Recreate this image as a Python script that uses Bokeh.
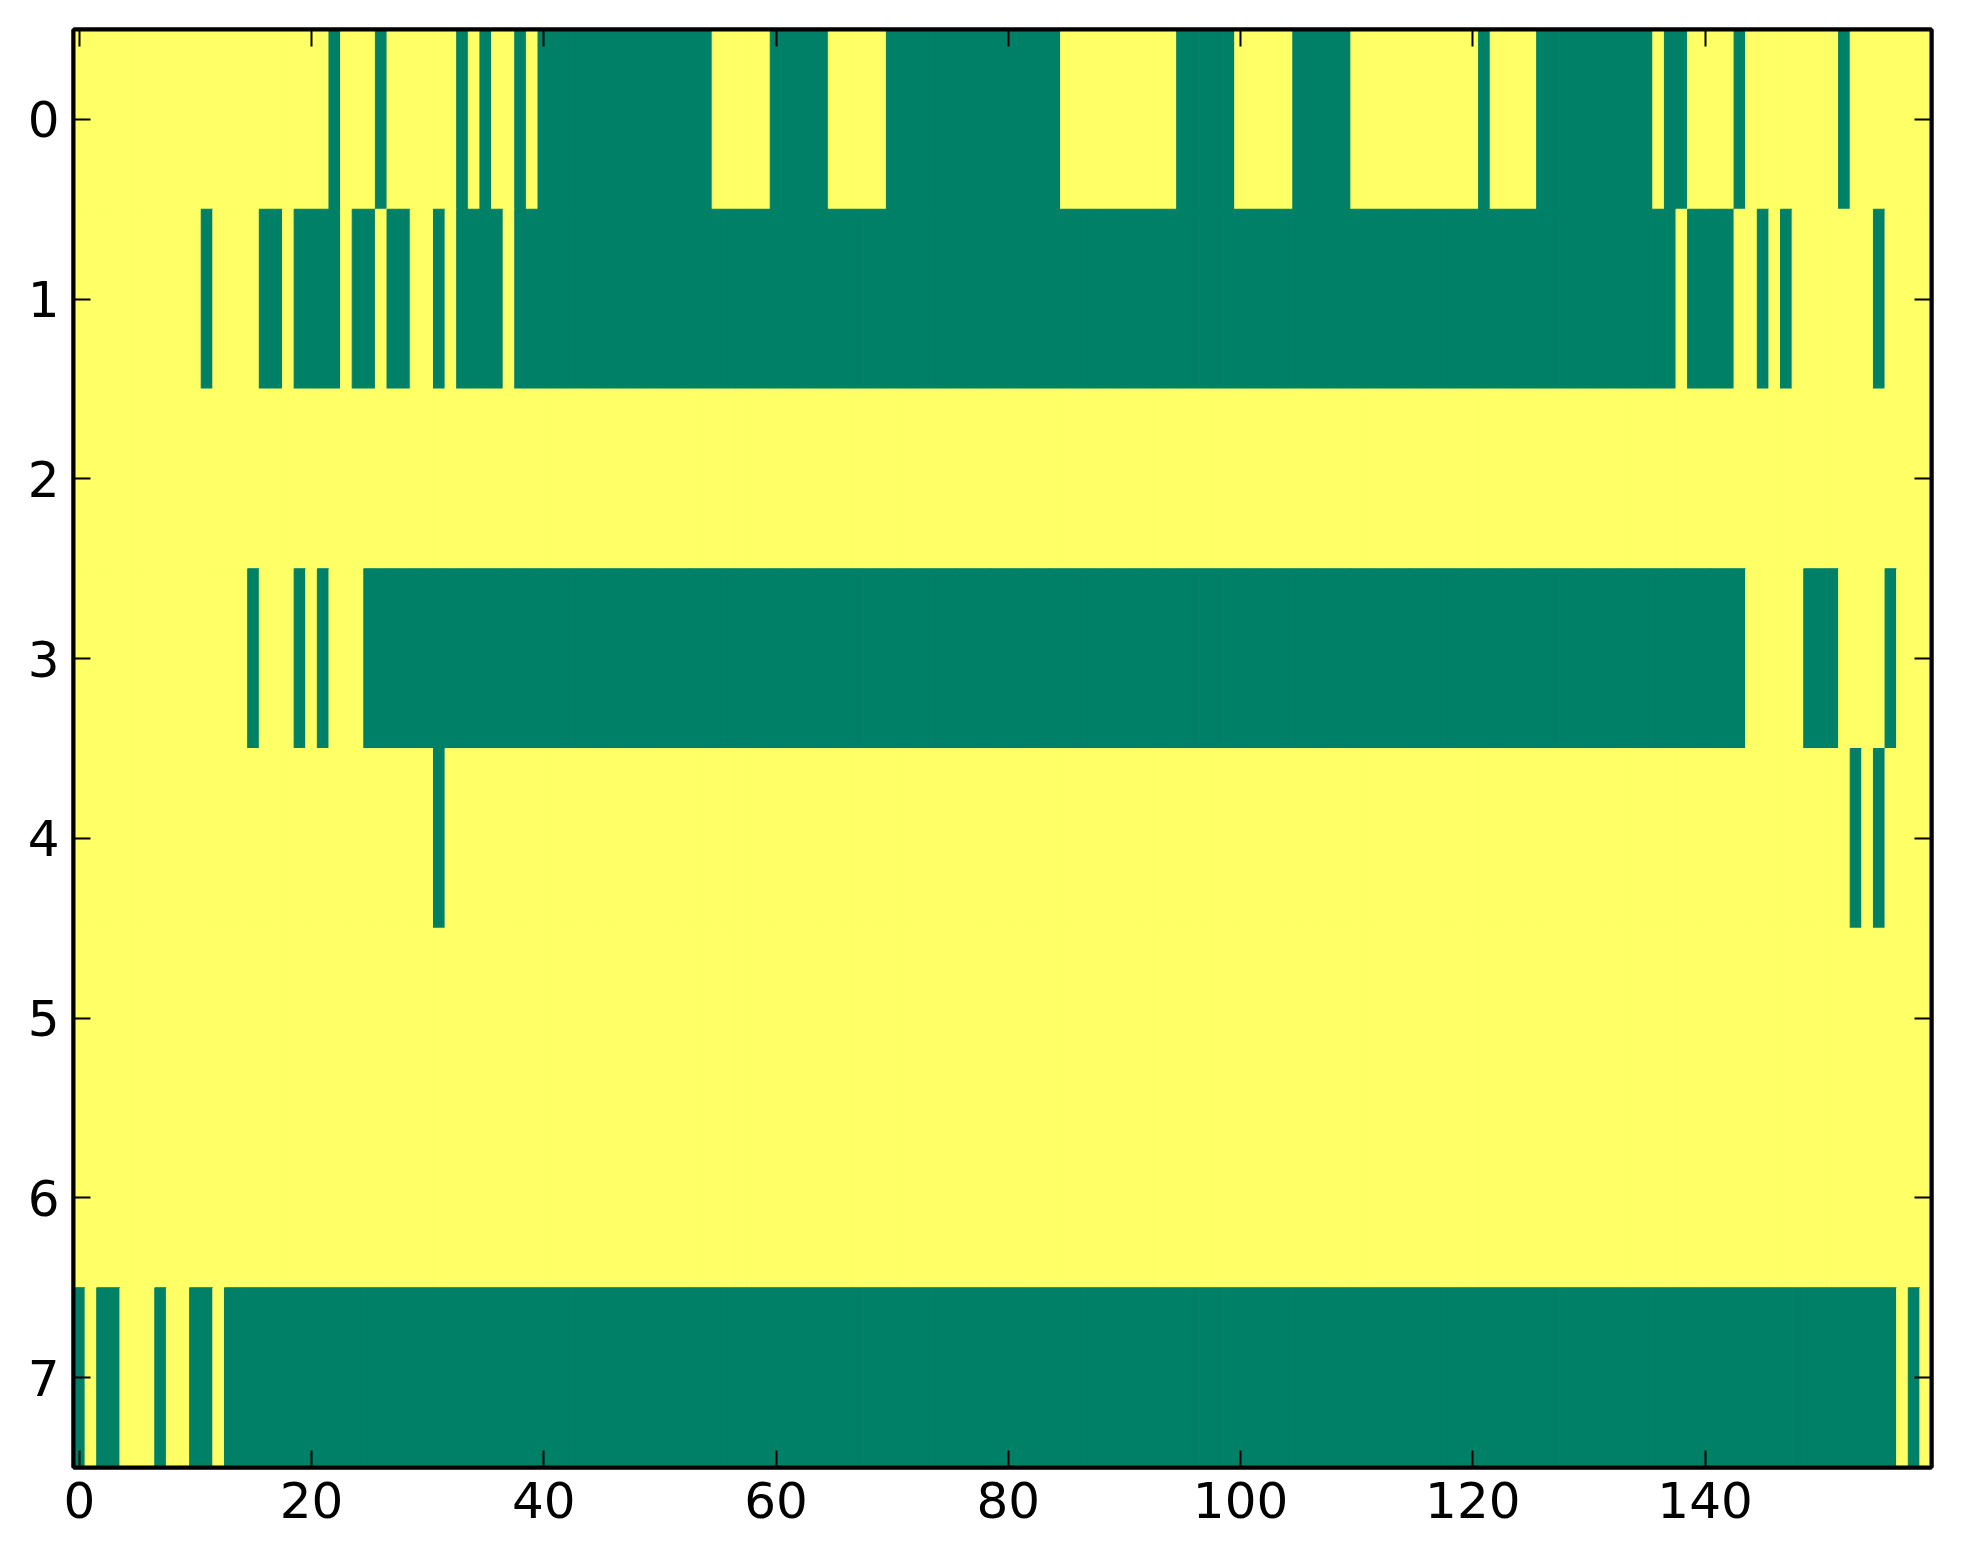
from bokeh.plotting import figure
from bokeh.models import ColumnDataSource, Range1d, FixedTicker, LinearAxis, CustomLabelingPolicy
from bokeh.transform import linear_cmap
from bokeh.embed import file_html
from bokeh.resources import INLINE

# 1 = yellow (high), 0 = green (low); each string = 10 columns
row0 = ["1111111111", "1111111111", "1101110111", "1110101101", "0000000000",
        "0000011111", "0000011111", "0000000000", "0000011111", "1111100000",
        "1111100000", "1111111111", "1011110000", "0000001001", "1110111111",
        "1101111111"]
row1 = ["1111111111", "1011110010", "0001001001", "1010000100", "0000000000",
        "0000000000", "0000000000", "0000000000", "0000000000", "0000000000",
        "0000000000", "0000000000", "0000000000", "0000000010", "0001101011",
        "1111101111"]
row2 = ["1111111111"] * 16
row3 = ["1111111111", "1111101110", "1011100000", "0000000000", "0000000000",
        "0000000000", "0000000000", "0000000000", "0000000000", "0000000000",
        "0000000000", "0000000000", "0000000000", "0000000000", "0000111110",
        "0011110111"]
row4 = ["1111111111", "1111111111", "1111111111", "1011111111", "1111111111",
        "1111111111", "1111111111", "1111111111", "1111111111", "1111111111",
        "1111111111", "1111111111", "1111111111", "1111111111", "1111111111",
        "1110101111"]
row5 = ["1111111111"] * 16
row6 = ["1111111111"] * 16
row7 = ["0100111011", "0010000000", "0000000000", "0000000000", "0000000000",
        "0000000000", "0000000000", "0000000000", "0000000000", "0000000000",
        "0000000000", "0000000000", "0000000000", "0000000000", "0000000000",
        "0000000101"]

rows = [row0, row1, row2, row3, row4, row5, row6, row7]
x_ticks = [0, 20, 40, 60, 80, 100, 120, 140]
y_ticks = [0, 1, 2, 3, 4, 5, 6, 7]
palette = ["#008066", "#FFFF66"]

xs, ys, vs = [], [], []
for r, row in enumerate(rows):
    vals = [int(c) for c in "".join(row)]
    for c, v in enumerate(vals):
        xs.append(c)
        ys.append(r)
        vs.append(v)
ncols = len("".join(row0))
nrows = len(rows)

src = ColumnDataSource(dict(x=xs, y=ys, v=vs))

p = figure(output_backend="svg", toolbar_location=None,
           frame_width=1858, frame_height=1438,
           x_range=Range1d(-0.5, ncols - 0.5), y_range=Range1d(nrows - 0.5, -0.5),
           min_border_left=73, min_border_top=29, min_border_right=20, min_border_bottom=80)
p.background_fill_color = "white"
p.border_fill_color = "white"
p.grid.visible = False
p.outline_line_color = "black"
p.outline_line_width = 4

cmap = linear_cmap("v", palette, 0, 1)
p.rect(x="x", y="y", width=1, height=1, source=src,
       fill_color=cmap, line_color=cmap, line_width=1)

FONT = "DejaVu Sans"
hide_all = CustomLabelingPolicy(code="""
for (let i = 0; i < indices.size; i++) { indices.unset(i) }
return indices
""")

def style(ax, labels=True):
    ax.axis_line_color = "black"
    ax.axis_line_width = 4
    ax.major_tick_in = 17
    ax.major_tick_out = 0
    ax.minor_tick_line_color = None
    ax.major_tick_line_width = 2
    ax.major_tick_line_color = "black"
    ax.major_label_text_font = FONT
    ax.major_label_text_color = "black"
    if labels:
        ax.major_label_text_font_size = "50px"
        ax.major_label_standoff = 14
    else:
        ax.major_label_text_font_size = "1px"
        ax.major_label_standoff = 0
        ax.major_label_policy = hide_all

p.xaxis.ticker = FixedTicker(ticks=x_ticks)
p.yaxis.ticker = FixedTicker(ticks=y_ticks)
style(p.xaxis[0])
style(p.yaxis[0])

top = LinearAxis(ticker=FixedTicker(ticks=x_ticks))
style(top, labels=False)
p.add_layout(top, "above")
right = LinearAxis(ticker=FixedTicker(ticks=y_ticks))
style(right, labels=False)
p.add_layout(right, "right")

open("out.html", "w").write(file_html(p, INLINE))
